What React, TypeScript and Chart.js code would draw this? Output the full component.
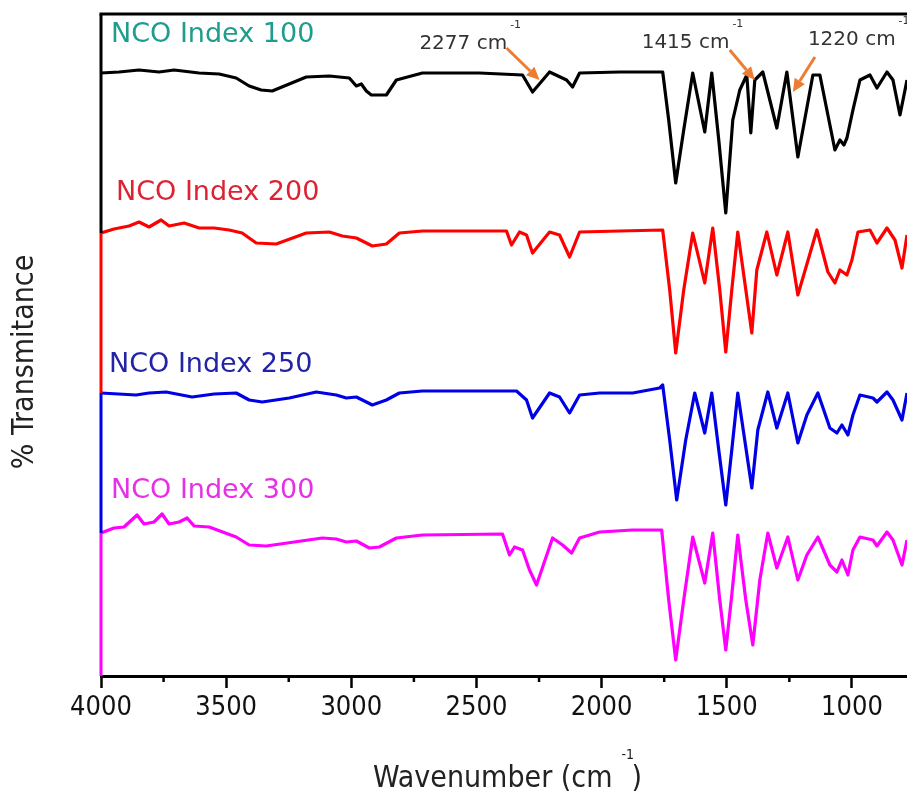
import { useEffect, useRef } from 'react';
import { Chart, registerables } from 'chart.js';
Chart.register(...registerables);

// Wavenumbers (cm-1) and offset transmittance values (arbitrary units) per spectrum
const WN_100 = [4000,3928,3848,3768,3708,3608,3528,3460,3408,3360,3316,3248,3180,3088,3008,2980,2960,2940,2920,2860,2820,2716,2488,2316,2276,2208,2140,2116,2088,1928,1756,1732,1704,1672,1636,1588,1560,1532,1504,1476,1448,1420,1404,1388,1356,1300,1260,1216,1156,1128,1068,1048,1032,1020,996,968,928,900,860,836,808,780];
const T_100 = [603,604,606,604,606,603,602,598,590,586,585,592,599,600,598,590,592,585,581,581,596,603,603,601,584,604,596,589,603,604,604,556,493,546,603,544,603,536,463,556,586,601,543,596,604,548,604,519,601,601,526,536,531,538,566,596,601,588,604,596,561,596];

const WN_200 = [4000,3948,3888,3848,3808,3760,3728,3668,3608,3548,3488,3436,3380,3300,3180,3088,3036,2980,2940,2916,2860,2808,2716,2380,2360,2328,2300,2276,2208,2168,2128,2088,1928,1756,1728,1704,1672,1636,1588,1556,1528,1504,1480,1456,1400,1380,1340,1300,1256,1216,1140,1096,1068,1048,1020,1000,976,928,900,860,828,800,780];
const T_200 = [443,447,450,454,449,456,450,453,448,448,446,443,433,432,443,444,440,438,433,430,432,443,445,445,431,444,441,423,444,441,419,444,445,446,386,323,386,443,393,448,386,324,386,444,343,406,444,401,444,381,446,404,393,406,401,416,444,446,433,448,436,408,441];

const WN_250 = [4000,3860,3808,3740,3636,3548,3460,3408,3356,3248,3140,3060,3020,2980,2940,2916,2860,2808,2716,2340,2300,2276,2208,2168,2128,2088,2008,1876,1768,1756,1728,1700,1664,1628,1588,1560,1532,1504,1480,1456,1400,1376,1336,1300,1256,1216,1180,1136,1088,1060,1040,1016,996,968,916,900,860,836,800,780];
const T_250 = [283,281,283,284,279,282,283,276,274,278,284,281,278,279,274,271,276,283,285,285,276,258,283,279,263,281,283,283,288,291,236,176,236,283,243,283,226,171,226,283,188,246,284,248,283,233,261,283,248,243,251,241,261,281,278,274,284,276,256,283];

const WN_300 = [4000,3948,3908,3856,3828,3788,3756,3728,3688,3656,3628,3568,3460,3408,3340,3116,3060,3020,2980,2928,2888,2820,2716,2396,2368,2348,2316,2288,2260,2196,2156,2120,2088,2008,1876,1760,1732,1704,1672,1636,1588,1556,1528,1504,1480,1456,1424,1396,1368,1336,1300,1256,1216,1180,1136,1088,1060,1040,1016,996,968,916,900,860,836,800,780];
const T_300 = [143,148,149,161,152,154,162,152,154,158,150,149,139,131,130,138,137,134,135,128,129,138,141,142,121,129,126,106,91,138,131,123,138,144,146,146,76,16,76,139,93,143,76,26,81,141,76,31,96,143,108,139,96,121,139,111,104,116,101,126,139,136,130,144,136,111,136];

const SERIES_NAMES = ['NCO Index 100', 'NCO Index 200', 'NCO Index 250', 'NCO Index 300'];
const LINE_COLORS = ['#000000', '#ff0000', '#0000e6', '#ff00ff'];
const LABEL_COLORS = ['#1e9c8c', '#dd2233', '#2323a8', '#e630e6'];
// label anchor (wavenumber, value)
const LABEL_WN = [3960, 3940, 3968, 3960];
const LABEL_VAL = [641, 483, 311, 185];

const X_TICK_LABELS = [1000, 1500, 2000, 2500, 3000, 3500, 4000];
const X_MINOR_TICKS = [1250, 1750, 2250, 2750, 3250, 3750];

// peak annotations
const PEAK_TEXT = ['2277 cm', '1415 cm', '1220 cm'];
const PEAK_TEXT_WN = [2728, 1840, 1176];
const PEAK_TEXT_VAL = [632, 633, 636];
const ARROW_FROM_WN = [2380, 1488, 1148];
const ARROW_FROM_VAL = [628, 626, 619];
const ARROW_TO_WN = [2248, 1388, 1236];
const ARROW_TO_VAL = [596, 596, 584];

const FAM = "'DejaVu Sans Condensed', 'DejaVu Sans', sans-serif";
const FAM_N = "'DejaVu Sans', sans-serif";

const toXY = (w: number[], t: number[]) => w.map((x, i) => ({ x, y: t[i] }));

const decorPlugin = {
  id: 'decor',
  afterDatasetsDraw(chart: any) {
    const { ctx, chartArea, scales } = chart;
    const xs = scales.x, ys = scales.y;
    ctx.save();
    // top border
    ctx.strokeStyle = '#000';
    ctx.lineWidth = 3;
    ctx.beginPath();
    ctx.moveTo(chartArea.left - 1.5, chartArea.top);
    ctx.lineTo(chartArea.right + 2, chartArea.top);
    ctx.stroke();
    // left axis in segments coloured by series
    const starts = [T_100[0], T_200[0], T_250[0], T_300[0]].map((v) => ys.getPixelForValue(v));
    const bounds = [chartArea.top, starts[1], starts[2], starts[3], chartArea.bottom];
    for (let i = 0; i < 4; i++) {
      ctx.strokeStyle = LINE_COLORS[i];
      ctx.beginPath();
      ctx.moveTo(chartArea.left, bounds[i]);
      ctx.lineTo(chartArea.left, bounds[i + 1]);
      ctx.stroke();
    }
    // minor ticks
    ctx.strokeStyle = '#000';
    ctx.lineWidth = 2.5;
    for (const w of X_MINOR_TICKS) {
      const px = xs.getPixelForValue(w);
      ctx.beginPath();
      ctx.moveTo(px, chartArea.bottom);
      ctx.lineTo(px, chartArea.bottom + 6);
      ctx.stroke();
    }
    // series labels
    ctx.textBaseline = 'middle';
    ctx.textAlign = 'left';
    ctx.font = `27px ${FAM_N}`;
    for (let i = 0; i < 4; i++) {
      ctx.fillStyle = LABEL_COLORS[i];
      ctx.fillText(SERIES_NAMES[i], xs.getPixelForValue(LABEL_WN[i]), ys.getPixelForValue(LABEL_VAL[i]));
    }
    // peak annotations
    for (let i = 0; i < PEAK_TEXT.length; i++) {
      const tx = xs.getPixelForValue(PEAK_TEXT_WN[i]);
      const ty = ys.getPixelForValue(PEAK_TEXT_VAL[i]);
      ctx.font = `20px ${FAM_N}`;
      ctx.fillStyle = '#333';
      ctx.fillText(PEAK_TEXT[i], tx, ty);
      const wd = ctx.measureText(PEAK_TEXT[i]).width;
      ctx.font = `11px ${FAM_N}`;
      ctx.fillText('-1', tx + wd + 3, ty - 19);
      // arrow
      const x1 = xs.getPixelForValue(ARROW_FROM_WN[i]);
      const y1 = ys.getPixelForValue(ARROW_FROM_VAL[i]);
      const x2 = xs.getPixelForValue(ARROW_TO_WN[i]);
      const y2 = ys.getPixelForValue(ARROW_TO_VAL[i]);
      const ang = Math.atan2(y2 - y1, x2 - x1);
      const hl = 13, hw = 6;
      const bx = x2 - hl * Math.cos(ang), by = y2 - hl * Math.sin(ang);
      ctx.strokeStyle = '#ed7d31';
      ctx.fillStyle = '#ed7d31';
      ctx.lineWidth = 3;
      ctx.beginPath();
      ctx.moveTo(x1, y1);
      ctx.lineTo(bx, by);
      ctx.stroke();
      ctx.beginPath();
      ctx.moveTo(x2, y2);
      ctx.lineTo(bx + hw * Math.sin(ang), by - hw * Math.cos(ang));
      ctx.lineTo(bx - hw * Math.sin(ang), by + hw * Math.cos(ang));
      ctx.closePath();
      ctx.fill();
    }
    ctx.restore();
  },
  afterDraw(chart: any) {
    const { ctx } = chart;
    ctx.save();
    ctx.fillStyle = '#222';
    ctx.textBaseline = 'middle';
    ctx.textAlign = 'left';
    ctx.font = `30px ${FAM}`;
    const main = 'Wavenumber (cm';
    const x0 = 373, y0 = 779;
    ctx.fillText(main, x0, y0);
    const w = ctx.measureText(main).width;
    ctx.fillText(')', x0 + w + 19, y0);
    ctx.font = `14px ${FAM}`;
    ctx.fillText('-1', x0 + w + 9, y0 - 24);
    // y title
    ctx.font = `30px ${FAM}`;
    ctx.translate(25, 362);
    ctx.rotate(-Math.PI / 2);
    ctx.textAlign = 'center';
    ctx.fillText('% Transmitance', 0, 0);
    ctx.restore();
  },
};

export default function App() {
  const ref = useRef<HTMLCanvasElement>(null);
  useEffect(() => {
    if (!ref.current) return;
    const series = [toXY(WN_100, T_100), toXY(WN_200, T_200), toXY(WN_250, T_250), toXY(WN_300, T_300)];
    const chart = new Chart(ref.current, {
      type: 'line',
      data: {
        datasets: series.map((d, i) => ({
          label: SERIES_NAMES[i],
          data: d,
          borderColor: LINE_COLORS[i],
          borderWidth: 3.2,
          pointRadius: 0,
          tension: 0,
          borderJoinStyle: 'round' as const,
          fill: false,
        })),
      },
      options: {
        animation: false,
        responsive: false,
        layout: { padding: { left: 101, top: 14, right: 0, bottom: 0 } },
        plugins: { legend: { display: false }, tooltip: { enabled: false }, title: { display: false } },
        scales: {
          x: {
            type: 'linear',
            min: 780,
            max: 4000,
            reverse: true,
            afterBuildTicks: (s: any) => { s.ticks = X_TICK_LABELS.map((v) => ({ value: v })); },
            afterFit: (s: any) => { s.height = 117; },
            border: { display: true, color: '#000', width: 3 },
            grid: {
              drawOnChartArea: false,
              drawTicks: true,
              tickLength: 12,
              tickWidth: 2.5,
              tickColor: '#000',
            },
            ticks: {
              autoSkip: false,
              maxRotation: 0,
              padding: 4,
              color: '#111',
              font: { family: FAM, size: 27 },
              callback: (v: any) => String(v),
            },
          },
          y: { display: false, min: 0, max: 662 },
        },
      },
      plugins: [decorPlugin],
    });
    return () => chart.destroy();
  }, []);
  return (
    <div style={{ position: 'absolute', left: 0, top: 0, width: 907, height: 793, background: '#fff' }}>
      <canvas ref={ref} width={907} height={793} style={{ display: 'block' }} />
    </div>
  );
}
